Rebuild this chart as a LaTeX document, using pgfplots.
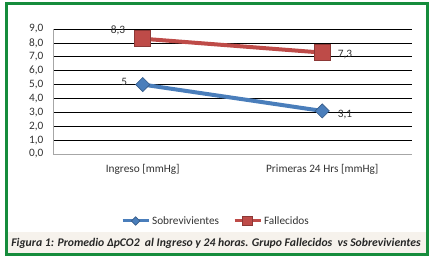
\documentclass[border=0pt]{standalone}
\usepackage{pgfplots}
\pgfplotsset{compat=1.18}
\usepackage{fontspec}
\setmainfont{Carlito}
\definecolor{frameGreen}{RGB}{22,140,60}
\definecolor{capBg}{RGB}{246,242,236}
\definecolor{serBlue}{RGB}{74,126,187}
\definecolor{serBlueDark}{RGB}{56,93,138}
\definecolor{serRed}{RGB}{190,75,72}
\definecolor{serRedDark}{RGB}{140,56,54}
\definecolor{txt}{RGB}{50,50,50}
\begin{document}
\begin{tikzpicture}[x=1pt,y=1pt]
\path[use as bounding box] (0,0) rectangle (433,262);
\fill[capBg] (8,9) rectangle (426,30);
\draw[frameGreen, line width=3pt] (6.5,7.5) rectangle (427.5,258);
\node[font=\bfseries\itshape\fontsize{11.7}{13}\selectfont, text=black!85] at (216,19) {Figura 1: Promedio ΔpCO2\ \ al Ingreso y 24 horas. Grupo Fallecidos\ \ vs Sobrevivientes};
\begin{axis}[
  at={(53pt,108pt)}, anchor=south west,
  scale only axis, width=359pt, height=125pt,
  xmin=-0.5, xmax=1.5, ymin=0, ymax=9,
  ytick={1,...,9}, extra y ticks={0}, extra y tick style={grid=none},
  xtick={0,1}, xticklabels={Ingreso [mmHg], Primeras 24 Hrs [mmHg]},
  axis x line=bottom, axis y line=left,
  axis line style={gray!70, -},
  ymajorgrids, grid style={black, line width=0.6pt},
  major tick length=0pt,
  yticklabel={\pgfmathprintnumber[fixed,fixed zerofill,precision=1,use comma,assume math mode=true]{\tick}},
  ticklabel style={font=\fontsize{11.3}{13}\selectfont, text=txt},
  yticklabel style={xshift=-6pt},
  xticklabel style={yshift=-7pt},
  legend style={at={(0.454,-0.536)}, anchor=center, draw=none, fill=none,
    legend columns=2, font=\fontsize{11.3}{13}\selectfont, text=txt,
    /tikz/every even column/.append style={column sep=12pt}},
  legend image code/.code={\draw[mark repeat=2,mark phase=2, line width=3pt, every mark/.append style={scale=0.6}] plot coordinates {(0pt,0pt)(13pt,0pt)(26pt,0pt)};},
  clip=false,
]
\addplot[serBlue, line width=4pt, mark=square*, mark size=5pt,
  mark options={rotate=45, fill=serBlue, draw=serBlueDark, line width=0.6pt}]
  coordinates {(0,5.0) (1,3.1)};
\addlegendentry{Sobrevivientes}
\addplot[serRed, line width=4pt, mark=square*, mark size=8pt,
  mark options={fill=serRed, draw=serRedDark, line width=0.6pt}]
  coordinates {(0,8.3) (1,7.3)};
\addlegendentry{Fallecidos}
\node[anchor=east, xshift=-14pt, yshift=8pt, font=\fontsize{11.3}{13}\selectfont, text=txt] at (axis cs:0,8.3) {8,3};
\node[anchor=west, xshift=12pt, yshift=-2pt, font=\fontsize{11.3}{13}\selectfont, text=txt] at (axis cs:1,7.3) {7,3};
\node[anchor=east, xshift=-12pt, yshift=3pt, font=\fontsize{11.3}{13}\selectfont, text=txt] at (axis cs:0,5.0) {5};
\node[anchor=west, xshift=12pt, yshift=-4pt, font=\fontsize{11.3}{13}\selectfont, text=txt] at (axis cs:1,3.1) {3,1};
\end{axis}
\end{tikzpicture}
\end{document}
